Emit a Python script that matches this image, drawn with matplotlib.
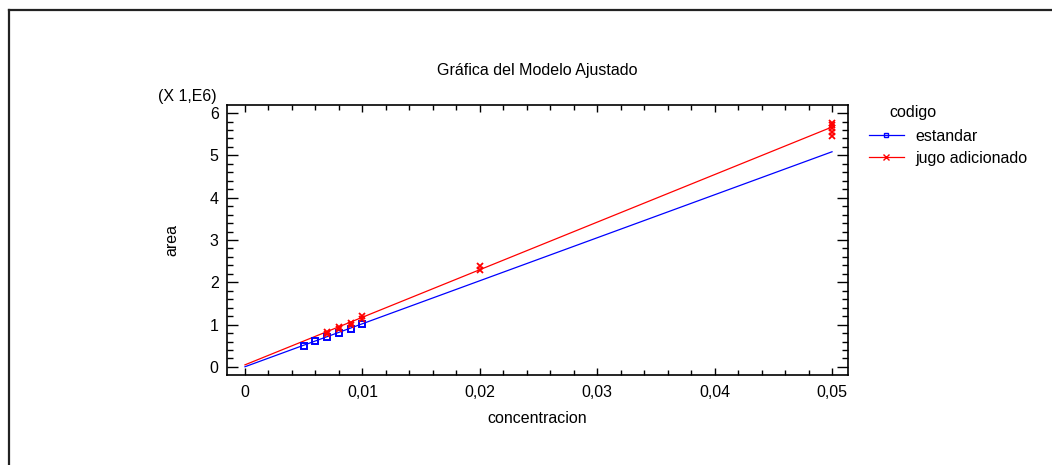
import numpy as np
import matplotlib
matplotlib.use("Agg")
import matplotlib.pyplot as plt
from matplotlib.lines import Line2D
from matplotlib.ticker import MultipleLocator, FuncFormatter

# Measured peak areas (raw counts) by concentration
conc_estandar = [0.005, 0.006, 0.007, 0.008, 0.009, 0.010]
area_estandar = [505000, 620000, 710000, 800000, 900000, 1020000]

conc_jugo = [0.007, 0.007, 0.008, 0.008, 0.009, 0.009, 0.010, 0.010,
             0.020, 0.020, 0.050, 0.050, 0.050, 0.050, 0.050]
area_jugo = [780000, 820000, 900000, 950000, 1000000, 1050000, 1140000, 1200000,
             2300000, 2380000, 5450000, 5550000, 5650000, 5720000, 5770000]

# Fitted model: area = intercept + slope * concentracion
fit_estandar = {"intercept": 5000, "slope": 101.6e6}
fit_jugo = {"intercept": 50000, "slope": 112.4e6}

series_labels = ["estandar", "jugo adicionado"]
legend_title = "codigo"
scale = 1e6

plt.rcParams["font.family"] = ["Liberation Sans", "DejaVu Sans"]
FS = 11.5

W, H = 1052, 465
fig = plt.figure(figsize=(W / 100, H / 100), dpi=100)
ax = fig.add_axes([227 / W, 1 - 375 / H, (848 - 227) / W, (375 - 105) / H])

xfit = np.linspace(0, 0.05, 50)
ax.plot(xfit, (fit_estandar["intercept"] + fit_estandar["slope"] * xfit) / scale,
        color="#0000ff", lw=0.9, zorder=2)
ax.plot(xfit, (fit_jugo["intercept"] + fit_jugo["slope"] * xfit) / scale,
        color="#ff0000", lw=0.9, zorder=2)
ax.plot(conc_estandar, np.array(area_estandar) / scale, ls="none", marker="s",
        ms=5, mfc="none", mec="#0000ff", mew=1.4, zorder=3)
ax.plot(conc_jugo, np.array(area_jugo) / scale, ls="none", marker="x",
        ms=5, mec="#ff0000", mew=1.3, zorder=3)

ax.set_xlim(-0.00153, 0.05136)
ax.set_ylim(-0.19, 6.19)
ax.xaxis.set_major_locator(MultipleLocator(0.01))
ax.xaxis.set_minor_locator(MultipleLocator(0.002))
ax.yaxis.set_major_locator(MultipleLocator(1))
ax.yaxis.set_minor_locator(MultipleLocator(0.2))


def comma_fmt(v, pos):
    s = f"{v:.2f}".rstrip("0").rstrip(".")
    if s in ("-0", ""):
        s = "0"
    return s.replace(".", ",")


ax.xaxis.set_major_formatter(FuncFormatter(comma_fmt))
ax.yaxis.set_major_formatter(FuncFormatter(lambda v, p: f"{v:.0f}"))

ax.tick_params(axis="both", which="both", direction="in", top=True, right=True,
               labelsize=FS, width=1.0, color="black")
ax.tick_params(axis="y", which="major", length=8, pad=6)
ax.tick_params(axis="y", which="minor", length=4.5)
ax.tick_params(axis="x", which="major", length=5, pad=7)
ax.tick_params(axis="x", which="minor", length=3.5)
for sp in ax.spines.values():
    sp.set_linewidth(1.2)

ax.set_xlabel("concentracion", fontsize=FS, labelpad=8)
ax.set_ylabel("area", fontsize=FS, labelpad=22)
fig.text(537 / W, 1 - 70 / H, "Gráfica del Modelo Ajustado", fontsize=FS,
         ha="center", va="center")
fig.text(217 / W, 1 - 97 / H, "(X 1,E6)", fontsize=FS, ha="right", va="center")

# Legend
fig.text(889 / W, 1 - 112 / H, legend_title, fontsize=FS, ha="left", va="center")
handles = [
    Line2D([], [], color="#0000ff", lw=0.9, marker="s", ms=3.5, mfc="none",
           mec="#0000ff", mew=1.0),
    Line2D([], [], color="#ff0000", lw=0.9, marker="x", ms=4, mec="#ff0000",
           mew=1.0),
]
fig.legend(handles, series_labels, loc="upper left",
           bbox_to_anchor=(864 / W, 1 - 124 / H), frameon=False, fontsize=FS,
           handlelength=2.2, handletextpad=0.7, labelspacing=0.45,
           borderaxespad=0, borderpad=0.3)

# Outer frame
fig.add_artist(Line2D([9 / W, 1.0], [1 - 10 / H, 1 - 10 / H],
                      transform=fig.transFigure, color="#222222", lw=1.6))
fig.add_artist(Line2D([9 / W, 9 / W], [0.0, 1 - 10 / H],
                      transform=fig.transFigure, color="#222222", lw=1.6))

fig.savefig("out.png", dpi=100, facecolor="white")
